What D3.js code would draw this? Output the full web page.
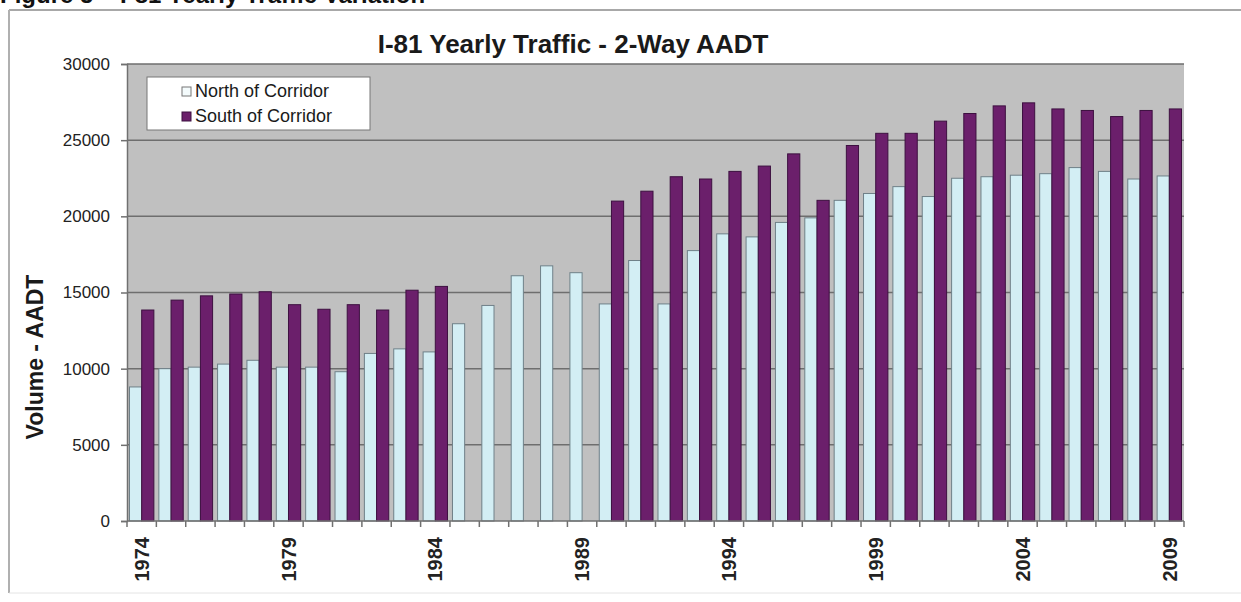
<!DOCTYPE html>
<html>

<head>
    <title>I-81 Yearly Traffic</title>
    <script src="https://d3js.org/d3.v7.min.js"></script>
    <style>
        body { margin: 0; background: #fff; }
        text { font-family: Arial, "Liberation Sans", sans-serif; }
    </style>
</head>

<body>
    <script>
        // data
        const years = d3.range(1974, 2010);
        const northValues = [8800, 10000, 10100, 10300, 10550, 10100, 10100, 9800, 11000, 11300,
            11100, 12950, 14150, 16100, 16750, 16300, 14250, 17100, 14250, 17750,
            18850, 18650, 19600, 19900, 21050, 21500, 21950, 21300, 22500, 22600,
            22700, 22800, 23200, 22950, 22450, 22650];
        const southValues = [13850, 14500, 14780, 14900, 15050, 14200, 13900, 14200, 13850, 15150,
            15400, null, null, null, null, null, 21000, 21650, 22600, 22450,
            22950, 23300, 24100, 21050, 24650, 25450, 25450, 26250, 26750, 27250,
            27450, 27050, 26950, 26550, 26950, 27050];
        const seriesNames = ['North of Corridor', 'South of Corridor'];
        const yTicks = [0, 5000, 10000, 15000, 20000, 25000, 30000];
        const xLabels = [1974, 1979, 1984, 1989, 1994, 1999, 2004, 2009];

        const colors = ['#d3eef4', '#6b1f6b'];

        const msm = {
            width: 1241,
            height: 602,
            left: 127,
            right: 1184,
            top: 64,
            bottom: 521
        }

        let svg = d3.select('body')
            .append('svg')
            .attr('width', msm.width)
            .attr('height', msm.height)

        // outer frame
        svg.append('line')
            .attr('x1', 9).attr('x2', msm.width).attr('y1', 10).attr('y2', 10)
            .attr('stroke', '#a8a8a8').attr('stroke-width', 2);
        svg.append('line')
            .attr('x1', 9).attr('x2', 9).attr('y1', 10).attr('y2', 593)
            .attr('stroke', '#b0b0b0').attr('stroke-width', 2);
        svg.append('line')
            .attr('x1', 9).attr('x2', msm.width).attr('y1', 593).attr('y2', 593)
            .attr('stroke', '#e4e4e4').attr('stroke-width', 1);

        // cut-off figure caption
        svg.append('text')
            .attr('x', 0)
            .attr('y', 3)
            .attr('font-size', 24)
            .attr('font-weight', 'bold')
            .attr('fill', '#111')
            .text('Figure 5 – I-81 Yearly Traffic Variation');

        // title
        svg.append('text')
            .attr('x', 573)
            .attr('y', 53)
            .attr('text-anchor', 'middle')
            .attr('font-size', 26)
            .attr('font-weight', 'bold')
            .attr('fill', '#1a1a1a')
            .text('I-81 Yearly Traffic - 2-Way AADT');

        let x0 = d3.scaleBand()
            .domain(years)
            .range([msm.left, msm.right])
            .paddingInner(0.17)
            .paddingOuter(0.085);

        let x1 = d3.scaleBand()
            .domain([0, 1])
            .range([0, x0.bandwidth()]);

        let y = d3.scaleLinear()
            .domain([0, 30000])
            .range([msm.bottom, msm.top]);

        // plot background
        svg.append('rect')
            .attr('x', msm.left)
            .attr('y', msm.top)
            .attr('width', msm.right - msm.left)
            .attr('height', msm.bottom - msm.top)
            .attr('fill', '#c0c0c0');

        // gridlines
        svg.append('g')
            .selectAll('line')
            .data(yTicks.filter(d => d > 0))
            .enter()
            .append('line')
            .attr('x1', msm.left)
            .attr('x2', msm.right)
            .attr('y1', d => y(d))
            .attr('y2', d => y(d))
            .attr('stroke', '#6e6e6e')
            .attr('stroke-width', 1.5);

        // bars
        let rows = years.map((yr, i) => ({ year: yr, values: [northValues[i], southValues[i]] }));

        svg.append('g')
            .selectAll('g')
            .data(rows)
            .enter()
            .append('g')
            .attr('transform', d => 'translate(' + x0(d.year) + ',0)')
            .selectAll('rect')
            .data(d => d.values.map((v, k) => ({ k: k, v: v })).filter(e => e.v != null))
            .enter()
            .append('rect')
            .attr('x', d => x1(d.k))
            .attr('y', d => y(d.v))
            .attr('width', x1.bandwidth())
            .attr('height', d => y(0) - y(d.v))
            .attr('fill', d => colors[d.k])
            .attr('stroke', d => d.k == 0 ? '#6f8088' : '#3d1040')
            .attr('stroke-width', 1);

        // y axis
        let yAxis = svg.append('g')
            .attr('transform', 'translate(' + msm.left + ',0)')
            .call(d3.axisLeft(y)
                .tickValues(yTicks)
                .tickSize(6)
                .tickPadding(11)
                .tickFormat(d3.format('d')));
        yAxis.select('.domain').attr('stroke', '#707070').attr('stroke-width', 1.5);
        yAxis.selectAll('.tick line').attr('stroke', '#707070').attr('stroke-width', 1.5);
        yAxis.selectAll('.tick text')
            .attr('font-size', 17)
            .attr('fill', '#222')
            .style('font-family', 'Arial, "Liberation Sans", sans-serif');

        // x axis line
        svg.append('line')
            .attr('x1', msm.left)
            .attr('x2', msm.right)
            .attr('y1', y(0))
            .attr('y2', y(0))
            .attr('stroke', '#707070')
            .attr('stroke-width', 1.5);

        // category tick marks between categories
        svg.append('g')
            .selectAll('line')
            .data(years.concat([2010]))
            .enter()
            .append('line')
            .attr('x1', d => msm.left + (d - 1974) * x0.step())
            .attr('x2', d => msm.left + (d - 1974) * x0.step())
            .attr('y1', y(0))
            .attr('y2', y(0) + 6)
            .attr('stroke', '#707070')
            .attr('stroke-width', 1.5);

        // category labels
        svg.append('g')
            .selectAll('text')
            .data(xLabels)
            .enter()
            .append('text')
            .attr('transform', d => 'translate(' + (x0(d) + x0.bandwidth() / 2) + ',' + (y(0) + 16) + ') rotate(-90)')
            .attr('text-anchor', 'end')
            .attr('dy', '0.36em')
            .attr('font-size', 20)
            .attr('font-weight', 'bold')
            .attr('fill', '#222')
            .text(d => d);

        // y axis title
        svg.append('text')
            .attr('transform', 'translate(43,357) rotate(-90)')
            .attr('text-anchor', 'middle')
            .attr('font-size', 23)
            .attr('font-weight', 'bold')
            .attr('fill', '#1a1a1a')
            .text('Volume - AADT');

        // legend
        let legend = svg.append('g');
        legend.append('rect')
            .attr('x', 147)
            .attr('y', 77)
            .attr('width', 223)
            .attr('height', 53)
            .attr('fill', '#fff')
            .attr('stroke', '#777')
            .attr('stroke-width', 1);

        let items = legend.selectAll('g')
            .data(seriesNames)
            .enter()
            .append('g')
            .attr('transform', (d, i) => 'translate(182,' + (87 + i * 25) + ')');
        items.append('rect')
            .attr('width', 9)
            .attr('height', 9)
            .attr('fill', (d, i) => i == 0 ? '#f4fbfc' : colors[1])
            .attr('stroke', (d, i) => i == 0 ? '#777' : '#3d1040');
        items.append('text')
            .attr('x', 13)
            .attr('y', 10)
            .attr('font-size', 18)
            .attr('fill', '#1a1a1a')
            .text(d => d);
    </script>
</body>
</html>
